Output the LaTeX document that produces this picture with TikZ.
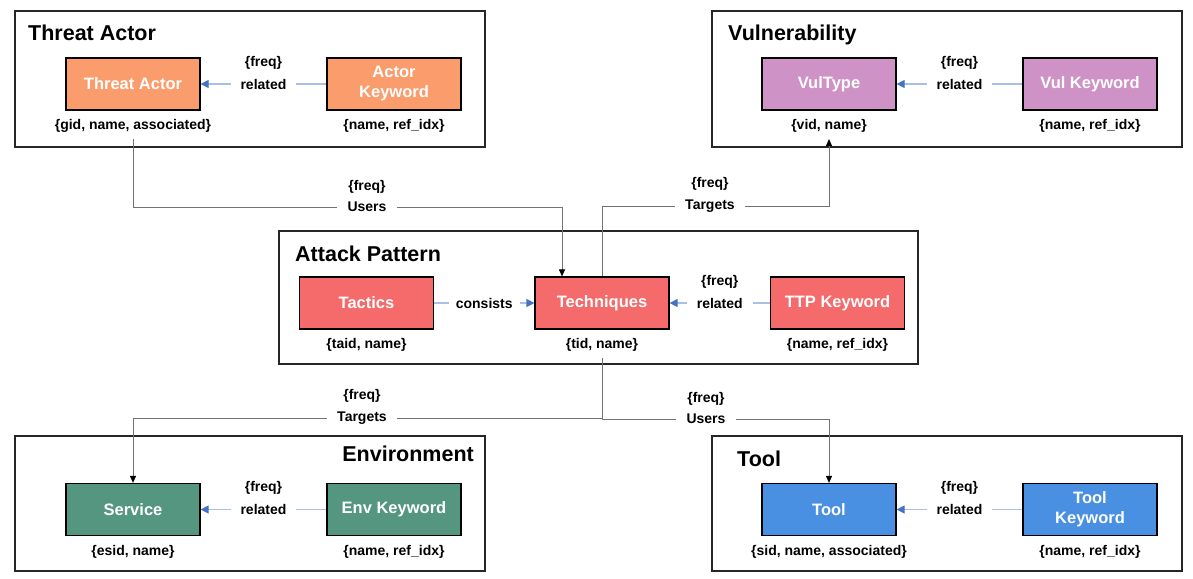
\documentclass[tikz,border=0pt]{standalone}
\usepackage{fontspec}
\setmainfont{Liberation Sans}
\usetikzlibrary{arrows.meta,positioning}

\definecolor{actorfill}{RGB}{250,156,108}
\definecolor{vulfill}{RGB}{206,146,198}
\definecolor{ttpfill}{RGB}{245,106,106}
\definecolor{envfill}{RGB}{84,150,128}
\definecolor{toolfill}{RGB}{74,144,226}
\definecolor{relline}{RGB}{168,192,232}
\definecolor{reltip}{RGB}{68,114,196}
\definecolor{linkgray}{RGB}{115,115,115}

\tikzset{
  entity/.style={draw=black,line width=1.2pt,minimum width=134pt,minimum height=52pt,
    text=white,align=center,font=\fontsize{16.5}{20}\selectfont\bfseries},
  attr/.style={font=\fontsize{14}{17}\selectfont\bfseries,inner sep=2pt},
  group/.style={draw=black!85,line width=1.8pt,minimum width=470pt,minimum height=136pt,inner sep=0pt},
  grouptitle/.style={font=\fontsize{21.5}{25}\selectfont\bfseries,inner sep=0pt,anchor=base west},
  lbl/.style={fill=white,font=\fontsize{14}{17}\selectfont\bfseries,inner xsep=10pt,inner ysep=2pt},
  freqlbl/.style={font=\fontsize{14}{17}\selectfont\bfseries,inner sep=2pt},
  rel/.style={draw=relline,line width=1.2pt,-{Triangle[length=8pt,width=8pt,color=reltip]}},
  link/.style={draw=linkgray,line width=1pt},
  linktip/.style={-{Triangle[length=7pt,width=6pt,color=black]}}
}

\begin{document}
\begin{tikzpicture}[x=1pt,y=-1pt,node distance=261pt]
  \useasboundingbox (0,0) rectangle (1193,578);

  % group frames
  \node[group] (tagrp) at (250,79) {};
  \node[group] (vgrp) at (947,79) {};
  \node[group,minimum width=639pt,minimum height=133pt] (apgrp) at (598.5,297.5) {};
  \node[group,minimum height=135pt] (envgrp) at (250,503.5) {};
  \node[group,minimum height=135pt] (toolgrp) at (947,503.5) {};

  \node[grouptitle] (tatitle) at (28,41) {Threat Actor};
  \node[grouptitle] (vtitle) at (728,41) {Vulnerability};
  \node[grouptitle] (aptitle) at (295,261) {Attack Pattern};
  \node[grouptitle,anchor=base east] (envtitle) at (474,461) {Environment};
  \node[grouptitle] (tooltitle) at (737,466) {Tool};

  % entities
  \node[entity,fill=actorfill] (ta) at (133,84) {Threat Actor};
  \node[entity,fill=actorfill] (tak) [right of=ta] {Actor\\Keyword};
  \node[entity,fill=vulfill] (vt) at (829,84) {VulType};
  \node[entity,fill=vulfill] (vtk) [right of=vt] {Vul Keyword};
  \node[entity,fill=envfill] (svc) at (133,509.5) {Service};
  \node[entity,fill=envfill] (envk) [right of=svc] {Env Keyword};
  \node[entity,fill=toolfill] (tool) at (829,509.5) {Tool};
  \node[entity,fill=toolfill] (toolk) [right of=tool] {Tool\\Keyword};
  \begin{scope}[node distance=235.5pt]
    \node[entity,fill=ttpfill] (tac) at (366.5,303) {Tactics};
    \node[entity,fill=ttpfill] (tech) [right of=tac] {Techniques};
    \node[entity,fill=ttpfill] (ttpk) [right of=tech] {TTP Keyword};
  \end{scope}

  % attributes
  \begin{scope}[every node/.style={attr}]
    \node (ta-attr) [below=7pt of ta] {\{gid, name, associated\}};
    \node (tak-attr) [below=7pt of tak] {\{name, ref\_idx\}};
    \node (vt-attr) [below=7pt of vt] {\{vid, name\}};
    \node (vtk-attr) [below=7pt of vtk] {\{name, ref\_idx\}};
    \node (tac-attr) [below=7pt of tac] {\{taid, name\}};
    \node (tech-attr) [below=7pt of tech] {\{tid, name\}};
    \node (ttpk-attr) [below=7pt of ttpk] {\{name, ref\_idx\}};
    \node (svc-attr) [below=7pt of svc] {\{esid, name\}};
    \node (envk-attr) [below=7pt of envk] {\{name, ref\_idx\}};
    \node (tool-attr) [below=7pt of tool] {\{sid, name, associated\}};
    \node (toolk-attr) [below=7pt of toolk] {\{name, ref\_idx\}};
  \end{scope}

  % keyword relations
  \draw[rel] (tak) -- node[lbl] (r1) {related} (ta);
  \draw[rel] (vtk) -- node[lbl] (r2) {related} (vt);
  \draw[rel] (ttpk) -- node[lbl] (r3) {related} (tech);
  \draw[rel] (envk) -- node[lbl] (r4) {related} (svc);
  \draw[rel] (toolk) -- node[lbl] (r5) {related} (tool);
  \draw[rel] (tac) -- node[lbl,inner xsep=7pt] (cons) {consists} (tech);
  \foreach \r in {r1,r2,r3,r4,r5}
    \node[freqlbl,above=5pt of \r] (\r-freq) {\{freq\}};

  % links between groups
  \node[lbl] (users1) at (367,207) {Users};
  \node[lbl] (targets1) at (710,206) {Targets};
  \node[lbl] (targets2) at (362,418) {Targets};
  \node[lbl] (users2) at (706,419) {Users};
  \foreach \l in {users1,targets1,targets2,users2}
    \node[freqlbl,above=4.5pt of \l] (\l-freq) {\{freq\}};

  \draw[link] ([yshift=-4pt]ta-attr.south) |- (users1);
  \draw[link,linktip] (users1) -| ([xshift=-40pt]tech.north);
  \draw[link] (tech) |- (targets1);
  \draw[link,linktip] (targets1) -| ([yshift=-4pt]vt-attr.south);
  \draw[link] ([yshift=-4pt]tech-attr.south) |- (targets2);
  \draw[link] ([yshift=-4pt]tech-attr.south) |- (users2);
  \draw[link,linktip] (targets2) -| (svc);
  \draw[link,linktip] (users2) -| (tool);
\end{tikzpicture}
\end{document}
